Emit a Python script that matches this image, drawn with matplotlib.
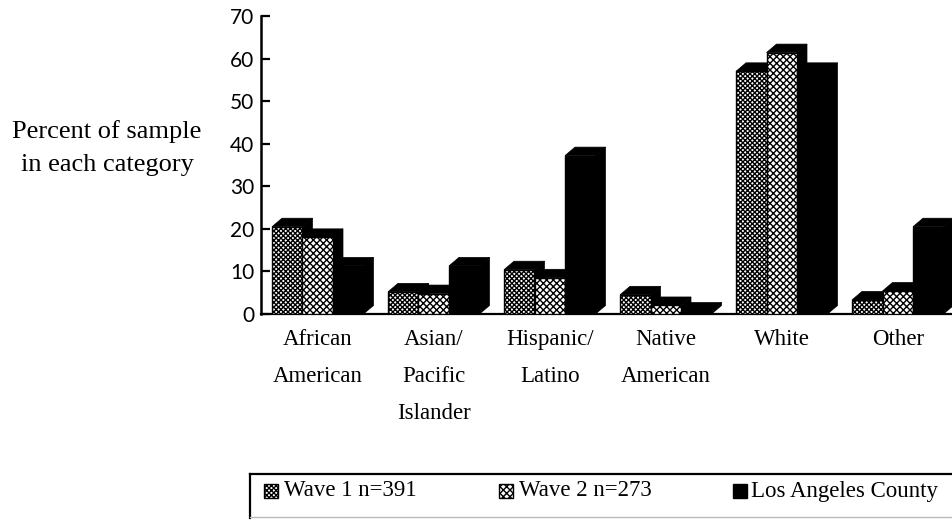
import matplotlib
matplotlib.use("Agg")
import matplotlib.pyplot as plt
from matplotlib.patches import Rectangle
from matplotlib.lines import Line2D

# ---------------- data ----------------
categories = ["African\nAmerican", "Asian/\nPacific\nIslander", "Hispanic/\nLatino",
              "Native\nAmerican", "White", "Other"]
series_names = ["Wave 1 n=391", "Wave 2 n=273", "Los Angeles County"]
wave1 = [20.5, 5.2, 10.4, 4.5, 57.0, 3.3]
wave2 = [18.0, 4.8, 8.5, 2.0, 61.4, 5.4]
la_county = [11.3, 11.3, 37.2, 0.7, 57.0, 20.5]
yticks = [0, 10, 20, 30, 40, 50, 60, 70]

# ---------------- style ----------------
plt.rcParams['hatch.color'] = 'black'
plt.rcParams['hatch.linewidth'] = 1.0
SERIF = ['Liberation Serif', 'DejaVu Serif']
SANS = ['Lato', 'DejaVu Sans']

W, H = 953, 520
fig = plt.figure(figsize=(W / 100, H / 100), dpi=100)
ax = fig.add_axes([261 / W, (H - 314) / H, (W - 261) / W, (314 - 16) / H])

bw = 30.5 / 116       # bar width (group spacing = 1)
ddx = 10 / 116        # depth x
ddy = 2.0             # depth y (data units)

series = [wave1, wave2, la_county]
faces = ['white', 'white', 'black']
hatches = ['xxxxxxx', 'xxxxx', None]

for g in range(len(categories)):
    for j, vals in enumerate(series):
        v = vals[g]
        x0 = g + j * bw
        z = 3 + 2 * j
        # side face
        ax.fill([x0 + bw, x0 + bw + ddx, x0 + bw + ddx, x0 + bw],
                [0, min(ddy, v + ddy), v + ddy, v],
                color='black', lw=0.5, zorder=z)
        # top face
        ax.fill([x0, x0 + ddx, x0 + bw + ddx, x0 + bw],
                [v, v + ddy, v + ddy, v],
                color='black', lw=0.5, zorder=z)
        # front face
        ax.bar(x0, v, width=bw, align='edge', facecolor=faces[j],
               edgecolor='black', hatch=hatches[j], linewidth=1.0,
               zorder=z + 1)

ax.set_xlim((261 - 272) / 116, (953 - 272) / 116)
ax.set_ylim(0, 70)

for s in ['top', 'right']:
    ax.spines[s].set_visible(False)
ax.spines['left'].set_linewidth(1.8)
ax.spines['bottom'].set_linewidth(1.6)

ax.set_yticks(yticks)
ax.set_yticklabels([str(t) for t in yticks], fontfamily=SANS, fontsize=15)
ax.tick_params(axis='y', direction='in', length=6.5, width=1.6, pad=5.0)

ax.set_xticks([g + 1.5 * bw for g in range(len(categories))])
ax.set_xticklabels(categories, fontfamily=SERIF, fontsize=16.5, linespacing=2.0)
ax.tick_params(axis='x', length=0, pad=11)

fig.text(107 / W, 1 - 148 / H, "Percent of sample\nin each category",
         ha='center', va='center', multialignment='center',
         fontfamily=SERIF, fontsize=19, linespacing=1.7)

# ---------------- legend ----------------
tf = fig.transFigure
fig.add_artist(Line2D([250 / W, 1.0], [1 - 474 / H, 1 - 474 / H], transform=tf,
                      color='black', lw=1.6))
fig.add_artist(Line2D([250 / W, 250 / W], [1 - 474 / H, 1 - 518 / H], transform=tf,
                      color='black', lw=1.6))
fig.add_artist(Line2D([250 / W, 1.0], [1 - 517 / H, 1 - 517 / H], transform=tf,
                      color='#bbbbbb', lw=1.0))

leg_marker_x = [264, 499, 733]
leg_text_x = [284, 519, 751]
yc = 1 - 491 / H
for j, name in enumerate(series_names):
    fig.add_artist(Rectangle((leg_marker_x[j] / W, yc - 7 / H), 14 / W, 14 / H,
                             transform=tf, facecolor=faces[j], edgecolor='black',
                             hatch=hatches[j], linewidth=1.0))
    fig.text(leg_text_x[j] / W, yc, name, ha='left', va='center',
             fontfamily=SERIF, fontsize=16.5)

fig.savefig("out.png", dpi=100)
